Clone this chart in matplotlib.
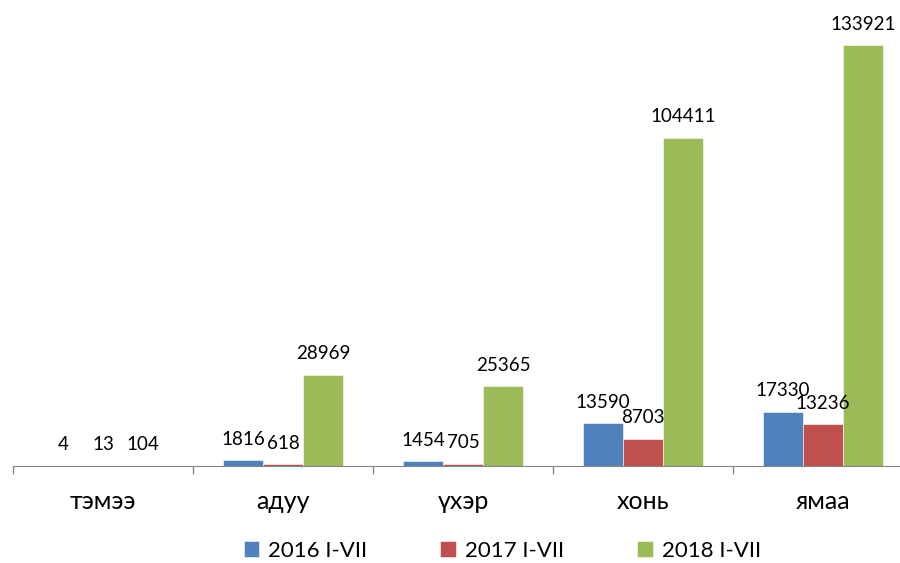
import matplotlib.pyplot as plt
import numpy as np

plt.rcParams["font.family"] = ["Lato", "DejaVu Sans"]

categories = ["тэмээ", "адуу", "үхэр", "хонь", "ямаа"]
series_names = ["2016 I-VII", "2017 I-VII", "2018 I-VII"]
v2016 = [4, 1816, 1454, 13590, 17330]
v2017 = [13, 618, 705, 8703, 13236]
v2018 = [104, 28969, 25365, 104411, 133921]
colors = ["#4F81BD", "#C0504D", "#9BBB59"]

fig = plt.figure(figsize=(9, 5.63), dpi=100)
ax = fig.add_axes([13 / 900, 97 / 563, 1.0, 440 / 563])

x = np.arange(len(categories))
width = 0.222
for i, (vals, name, c) in enumerate(zip([v2016, v2017, v2018], series_names, colors)):
    pos = x + (i - 1) * width
    ax.bar(pos, vals, width, color=c, label=name, edgecolor="white", linewidth=0.4)
    for px, v in zip(pos, vals):
        ax.annotate(str(v), (px, v), xytext=(0, 9), textcoords="offset points",
                    ha="center", va="bottom", fontsize=13.5, color="black")

ax.set_xlim(-0.5, 4.5)
ax.set_ylim(0, 140000)
for s in ["top", "right", "left"]:
    ax.spines[s].set_visible(False)
ax.spines["bottom"].set_color("#868686")
ax.set_yticks([])
ax.set_xticks(x)
ax.set_xticklabels(categories, fontsize=18)
ax.tick_params(axis="x", which="major", length=0, pad=17)
ax.set_xticks(np.arange(-0.5, 5.0, 1.0), minor=True)
ax.tick_params(axis="x", which="minor", length=6, color="#868686", width=1)

fig.legend(loc="lower center", bbox_to_anchor=(0.558, -0.032), ncol=3, frameon=False,
           fontsize=16, handlelength=0.7, handleheight=0.7, handletextpad=0.4,
           columnspacing=3.3)

fig.savefig("out.png", dpi=100)
